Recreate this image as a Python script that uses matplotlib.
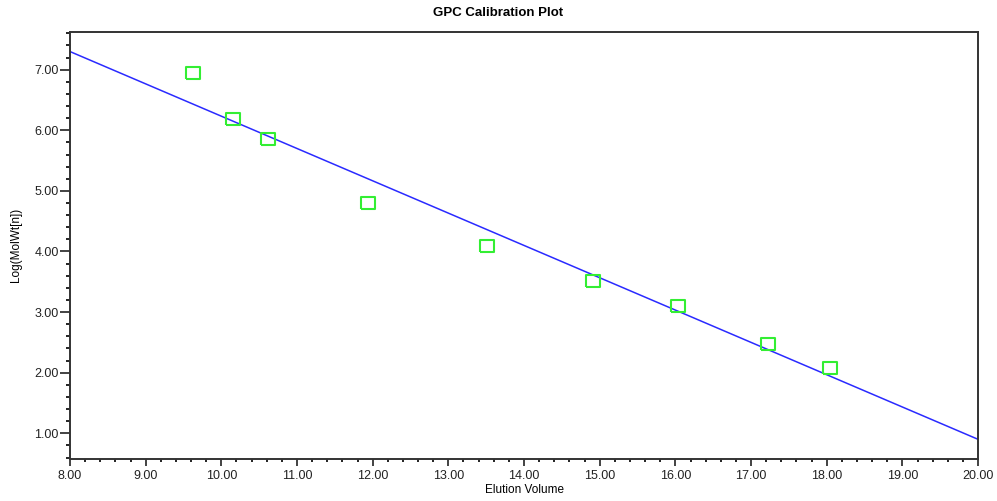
import numpy as np
import matplotlib
matplotlib.use("Agg")
import matplotlib.pyplot as plt
from matplotlib.ticker import MultipleLocator, FormatStrFormatter

# calibration standards
elution_volume = [9.63, 10.15, 10.62, 11.94, 13.51, 14.91, 16.03, 17.22, 18.04]
log_molwt = [6.95, 6.19, 5.86, 4.80, 4.09, 3.51, 3.10, 2.47, 2.07]

# linear fit end points
fit_x = [8.00, 20.00]
fit_y = [7.30, 0.90]

plt.rcParams["font.family"] = ["Liberation Sans", "DejaVu Sans"]

# slightly wide open rectangle, like the original software draws
rect_marker = [(-1, -0.8), (1, -0.8), (1, 0.8), (-1, 0.8), (-1, -0.8)]

fig = plt.figure(figsize=(9.97, 5.01), dpi=100)
ax = fig.add_axes([0.0702, 0.0838, 0.9108, 0.8532])

ax.plot(fit_x, fit_y, color="#2a2aff", linewidth=1.1, zorder=2)
ax.plot(elution_volume, log_molwt, linestyle="none", marker=rect_marker,
        markersize=10.5, markerfacecolor="none", markeredgecolor="#33ee33",
        markeredgewidth=1.5, zorder=3)

ax.set_xlim(8.0, 20.0)
ax.set_ylim(0.575, 7.63)

ax.xaxis.set_major_locator(MultipleLocator(1.0))
ax.xaxis.set_minor_locator(MultipleLocator(0.2))
ax.yaxis.set_major_locator(MultipleLocator(1.0))
ax.yaxis.set_minor_locator(MultipleLocator(0.2))
ax.xaxis.set_major_formatter(FormatStrFormatter("%.2f"))
ax.yaxis.set_major_formatter(FormatStrFormatter("%.2f"))

ax.tick_params(axis="x", which="major", length=5, width=1.2, pad=3,
               labelsize=9, colors="#222222")
ax.tick_params(axis="x", which="minor", length=2.5, width=1.2)
ax.tick_params(axis="y", which="major", length=7, width=1.2, pad=1,
               labelsize=9, colors="#222222")
ax.tick_params(axis="y", which="minor", length=3, width=1.2)

for s in ax.spines.values():
    s.set_linewidth(1.4)
    s.set_color("#333333")

ax.set_xlabel("Elution Volume", fontsize=8.5, labelpad=1)
ax.set_ylabel("Log(MolWt[n])", fontsize=8.5, labelpad=9)

fig.text(0.5, 0.974, "GPC Calibration Plot", ha="center", va="center",
         fontsize=9.5, fontweight="bold")

fig.savefig("out.png", dpi=100)
